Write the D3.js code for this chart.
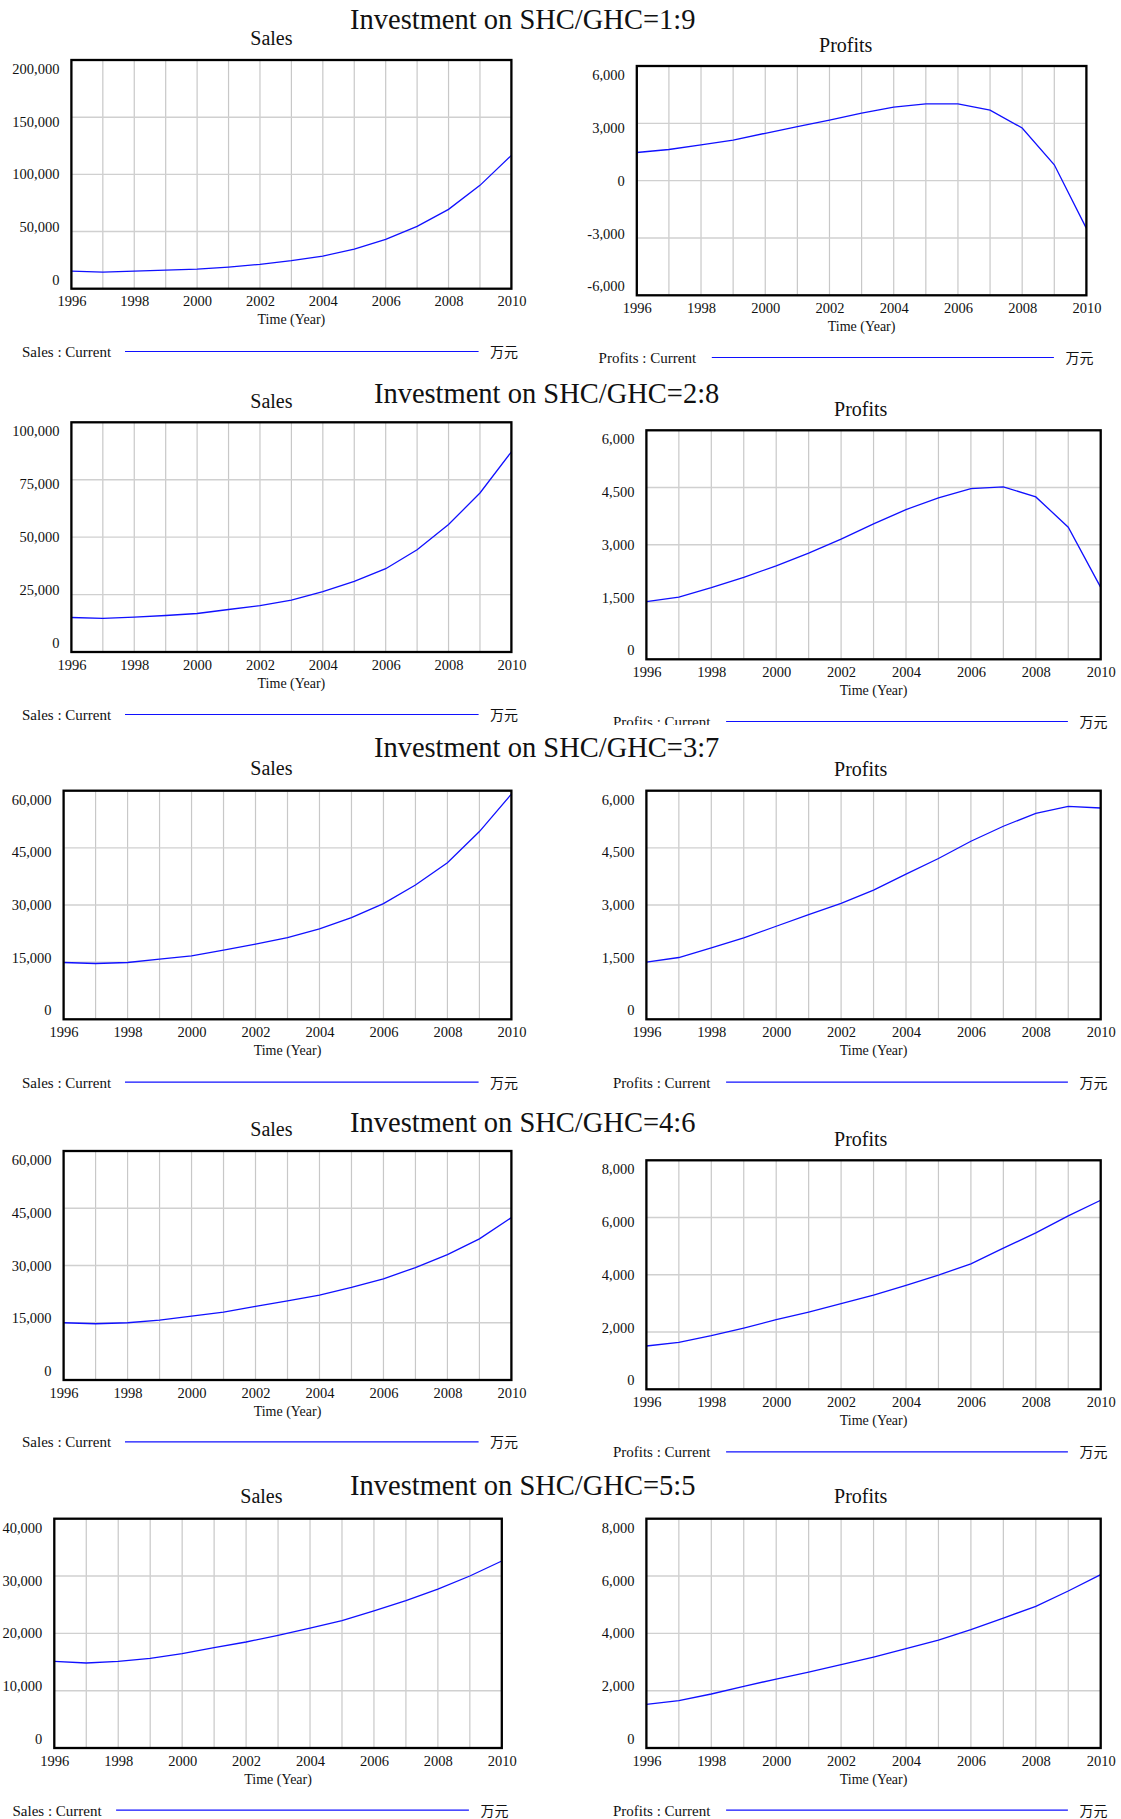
<!DOCTYPE html>
<meta charset="utf-8">
<style>
body { margin: 0; background: #fff; }
svg text { font-family: "Liberation Serif", "Times New Roman", serif; fill: #111; }
.cjk { font-family: "Noto Sans CJK SC", sans-serif; }
</style>
<body>
<svg id="chart" width="1121" height="1819"></svg>
<script src="https://cdn.jsdelivr.net/npm/d3@7"></script>
<script>

var years = [1996, 1997, 1998, 1999, 2000, 2001, 2002, 2003, 2004, 2005, 2006, 2007, 2008, 2009, 2010];
var yearTicks = [1996, 1998, 2000, 2002, 2004, 2006, 2008, 2010];
var ratios = ["1:9", "2:8", "3:7", "4:6", "5:5"];

// Sales : Current, one array per SHC/GHC ratio
var sales19 = [15450, 14580, 15450, 16320, 17200, 18950, 21280, 24490, 28570, 34690, 43140, 54510, 69380, 90370, 116600];
var sales28 = [15030, 14600, 15170, 15900, 16760, 18500, 20230, 22540, 26300, 30780, 36270, 44500, 55490, 69220, 87140];
var sales37 = [14910, 14650, 14910, 15780, 16650, 18140, 19710, 21450, 23720, 26680, 30350, 35230, 41070, 49270, 59120];
var sales46 = [15000, 14740, 15000, 15700, 16740, 17790, 19270, 20750, 22240, 24240, 26510, 29470, 32870, 36970, 42550];
var sales55 = [15120, 14830, 15120, 15640, 16450, 17500, 18490, 19650, 20930, 22210, 23900, 25700, 27730, 30000, 32620];

// Profits : Current
var profits19 = [1474, 1630, 1873, 2116, 2480, 2827, 3173, 3538, 3850, 4023, 4023, 3694, 2757, 832, -2497];
var profits28 = [1509, 1631, 1875, 2145, 2450, 2782, 3148, 3549, 3924, 4229, 4473, 4517, 4255, 3462, 1884];
var profits37 = [1500, 1622, 1875, 2137, 2442, 2747, 3043, 3392, 3811, 4221, 4674, 5067, 5407, 5590, 5546];
var profits46 = [1512, 1640, 1872, 2140, 2430, 2698, 2989, 3291, 3628, 3989, 4384, 4930, 5466, 6058, 6605];
var profits55 = [1523, 1651, 1884, 2151, 2407, 2651, 2907, 3174, 3465, 3767, 4128, 4535, 4942, 5477, 6047];

// y tick labels
var salesTicks19 = [0, 50000, 100000, 150000, 200000];
var salesTicks28 = [0, 25000, 50000, 75000, 100000];
var salesTicks37 = [0, 15000, 30000, 45000, 60000];
var salesTicks46 = [0, 15000, 30000, 45000, 60000];
var salesTicks55 = [0, 10000, 20000, 30000, 40000];
var profitTicks19 = [-6000, -3000, 0, 3000, 6000];
var profitTicks28 = [0, 1500, 3000, 4500, 6000];
var profitTicks37 = [0, 1500, 3000, 4500, 6000];
var profitTicks46 = [0, 2000, 4000, 6000, 8000];
var profitTicks55 = [0, 2000, 4000, 6000, 8000];

var unit = "万元";

// plot boxes [left, top, right, bottom], title pos, legend (text x, line x1, x2, baseline)
var panels = [
  {name: "Sales", values: sales19, ticks: salesTicks19, box: [71.4, 60, 511.4, 288.7], title: [271.4, 45], legend: [22, 125, 478.6, 357]},
  {name: "Profits", values: profits19, ticks: profitTicks19, box: [636.8, 66, 1086.4, 295.3], title: [845.7, 52], legend: [598.6, 711.8, 1053.9, 363]},
  {name: "Sales", values: sales28, ticks: salesTicks28, box: [71.4, 422.3, 511.4, 652], title: [271.4, 408], legend: [22, 125, 478.6, 720]},
  {name: "Profits", values: profits28, ticks: profitTicks28, box: [646.4, 430.3, 1100.7, 659.3], title: [860.7, 415.7], legend: [612.9, 726.1, 1067.9, 727]},
  {name: "Sales", values: sales37, ticks: salesTicks37, box: [63.6, 790.7, 511.4, 1019.3], title: [271.4, 775], legend: [22, 125, 478.6, 1087.7]},
  {name: "Profits", values: profits37, ticks: profitTicks37, box: [646.4, 790.7, 1100.7, 1019.3], title: [860.7, 775.7], legend: [612.9, 726.1, 1067.9, 1087.7], cover: 725},
  {name: "Sales", values: sales46, ticks: salesTicks46, box: [63.6, 1151, 511.4, 1380], title: [271.4, 1135.7], legend: [22, 125, 478.6, 1447.3]},
  {name: "Profits", values: profits46, ticks: profitTicks46, box: [646.4, 1160.3, 1100.7, 1389.3], title: [860.7, 1145.7], legend: [612.9, 726.1, 1067.9, 1457.3]},
  {name: "Sales", values: sales55, ticks: salesTicks55, box: [54.3, 1518.7, 501.8, 1748], title: [261.4, 1503.3], legend: [12.5, 116.1, 468.9, 1815.7]},
  {name: "Profits", values: profits55, ticks: profitTicks55, box: [646.4, 1518.7, 1100.7, 1748], title: [860.7, 1503.3], legend: [612.9, 726.1, 1067.9, 1815.7]}
];

// main titles: start x, baseline
var headings = [[350, 29], [373.9, 403.3], [373.9, 756.7], [350, 1131.7], [350, 1495]];

var svg = d3.select("svg#chart");
var fmt = d3.formatLocale({decimal: ".", thousands: ",", grouping: [3], currency: ["", ""], minus: "-"}).format(",");

function drawPanel(p) {
  var g = svg.append("g");
  var b = p.box;

  if (p.cover) {
    // the next image block is pasted over the bottom of the previous legend text
    g.append("rect").attr("x", 560).attr("y", p.cover).attr("width", 500).attr("height", b[1] - p.cover + 10).attr("fill", "#fff");
  }

  var x = d3.scaleLinear().domain([years[0], years[years.length - 1]]).range([b[0], b[2]]);
  var y = d3.scaleLinear().domain(d3.extent(p.ticks)).range([b[3], b[1]]);
  // labels sit a bit inside the frame
  var yl = d3.scaleLinear().domain(d3.extent(p.ticks)).range([b[3] - 9, b[1] + 9]);

  g.append("g").selectAll("line")
      .data(years)
    .enter().append("line")
      .attr("x1", d => x(d)).attr("x2", d => x(d))
      .attr("y1", b[1]).attr("y2", b[3])
      .attr("stroke", "#c8c8c8").attr("stroke-width", 1.2);

  g.append("g").selectAll("line")
      .data(p.ticks)
    .enter().append("line")
      .attr("x1", b[0]).attr("x2", b[2])
      .attr("y1", d => y(d)).attr("y2", d => y(d))
      .attr("stroke", "#d0d0d0").attr("stroke-width", 1.4);

  var line = d3.line()
      .x((d, i) => x(years[i]))
      .y(d => y(d));

  g.append("path")
      .datum(p.values)
      .attr("d", line)
      .attr("fill", "none")
      .attr("stroke", "#1010ff")
      .attr("stroke-width", 1.3);

  g.append("rect")
      .attr("x", b[0]).attr("y", b[1])
      .attr("width", b[2] - b[0]).attr("height", b[3] - b[1])
      .attr("fill", "none").attr("stroke", "#000").attr("stroke-width", 2.3);

  var ya = g.append("g")
      .attr("transform", "translate(" + (b[0] - 12) + ",0)")
      .call(d3.axisLeft(yl).tickValues(p.ticks).tickSize(0).tickPadding(0).tickFormat(fmt));
  ya.select(".domain").remove();
  ya.attr("font-family", null).attr("font-size", 14.5);

  var xa = g.append("g")
      .attr("transform", "translate(0," + b[3] + ")")
      .call(d3.axisBottom(x).tickValues(yearTicks).tickSize(0).tickPadding(0).tickFormat(d3.format("d")));
  xa.select(".domain").remove();
  xa.attr("font-family", null).attr("font-size", 14.5);
  xa.selectAll("text").attr("y", 17.5).attr("dy", null);

  g.append("text")
      .attr("x", (b[0] + b[2]) / 2).attr("y", b[3] + 35.7)
      .attr("text-anchor", "middle").attr("font-size", 14)
      .text("Time (Year)");

  g.append("text")
      .attr("x", p.title[0]).attr("y", p.title[1])
      .attr("text-anchor", "middle").attr("font-size", 20)
      .text(p.name);

  var L = p.legend;
  g.append("text")
      .attr("x", L[0]).attr("y", L[3])
      .attr("font-size", 15)
      .text(p.name + " : Current");
  g.append("line")
      .attr("x1", L[1]).attr("x2", L[2])
      .attr("y1", L[3] - 5.5).attr("y2", L[3] - 5.5)
      .attr("stroke", "#1010ff").attr("stroke-width", 1.2);
  g.append("text")
      .attr("class", "cjk")
      .attr("x", L[2] + 11.5).attr("y", L[3])
      .attr("font-size", 14)
      .text(unit);
}

panels.forEach(drawPanel);

svg.append("g").selectAll("text")
    .data(ratios)
  .enter().append("text")
    .attr("x", (d, i) => headings[i][0])
    .attr("y", (d, i) => headings[i][1])
    .attr("font-size", 28.5)
    .text(d => "Investment on SHC/GHC=" + d);

</script>
